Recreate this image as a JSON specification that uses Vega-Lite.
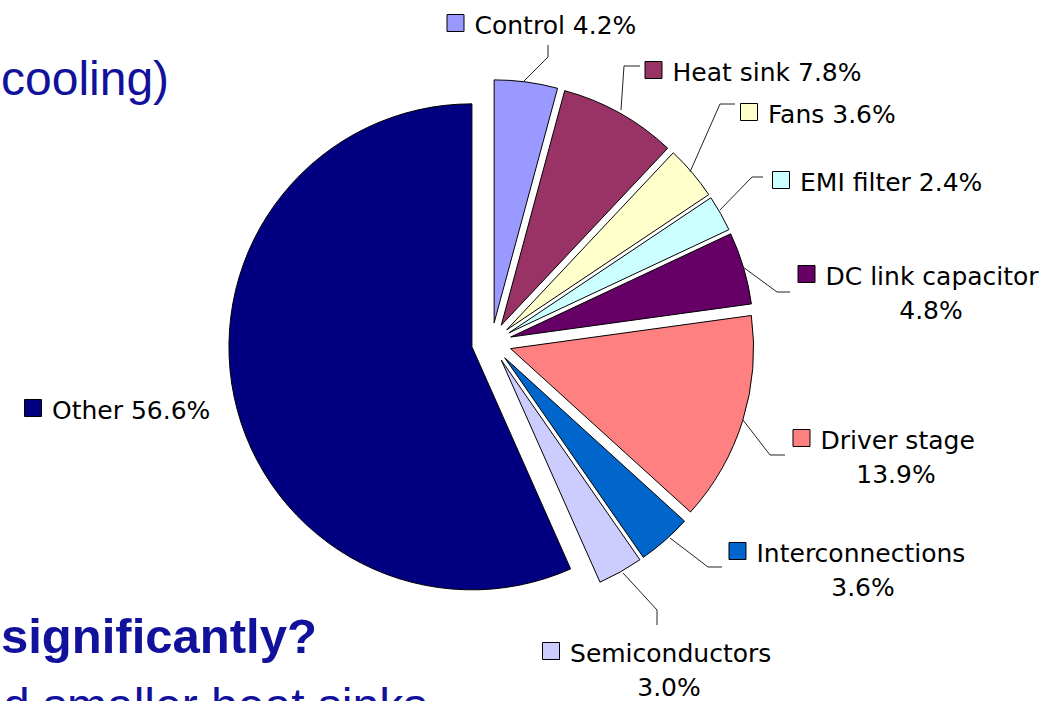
{
  "$schema": "https://vega.github.io/schema/vega-lite/v6.json",
  "width": 1054,
  "height": 701,
  "autosize": {"type": "none"},
  "padding": 0,
  "background": "white",
  "config": {"view": {"stroke": null}},
  "datasets": {
    "slices": [
      {"idx": 1, "cat": "Control", "pct": 4.2},
      {"idx": 2, "cat": "Heat sink", "pct": 7.8},
      {"idx": 3, "cat": "Fans", "pct": 3.6},
      {"idx": 4, "cat": "EMI filter", "pct": 2.4},
      {"idx": 5, "cat": "DC link capacitor", "pct": 4.8},
      {"idx": 6, "cat": "Driver stage", "pct": 13.9},
      {"idx": 7, "cat": "Interconnections", "pct": 3.6},
      {"idx": 8, "cat": "Semiconductors", "pct": 3.0},
      {"idx": 9, "cat": "Other", "pct": 56.6}
    ],
    "labels": [
      {"cat": "Control", "l1": "Control 4.2%", "x": -14.81, "y": 131.56},
      {"cat": "Heat sink", "l1": "Heat sink 7.8%", "x": 66.67, "y": 112.22},
      {"cat": "Fans", "l1": "Fans 3.6%", "x": 105.97, "y": 94.94},
      {"cat": "EMI filter", "l1": "EMI filter 2.4%", "x": 119.14, "y": 66.95},
      {"cat": "DC link capacitor", "l1": "DC link capacitor", "l2": "4.8%", "x": 129.63, "y": 28.27, "x2": 180.86},
      {"cat": "Driver stage", "l1": "Driver stage", "l2": "13.9%", "x": 127.57, "y": -39.22, "x2": 166.46},
      {"cat": "Interconnections", "l1": "Interconnections", "l2": "3.6%", "x": 101.23, "y": -85.72, "x2": 152.88},
      {"cat": "Semiconductors", "l1": "Semiconductors", "l2": "3.0%", "x": 24.49, "y": -126.87, "x2": 73.05},
      {"cat": "Other", "l1": "Other 56.6%", "x": -188.68, "y": -26.87}
    ],
    "leaders": [
      {"cat": "Control", "seq": 1, "x": 12.96, "y": 107.28},
      {"cat": "Control", "seq": 2, "x": 23.25, "y": 117.57},
      {"cat": "Control", "seq": 3, "x": 23.25, "y": 122.51},
      {"cat": "Heat sink", "seq": 1, "x": 53.29, "y": 95.76},
      {"cat": "Heat sink", "seq": 2, "x": 54.53, "y": 113.87},
      {"cat": "Heat sink", "seq": 3, "x": 61.11, "y": 113.87},
      {"cat": "Fans", "seq": 1, "x": 81.69, "y": 70.25},
      {"cat": "Fans", "seq": 2, "x": 94.03, "y": 98.23},
      {"cat": "Fans", "seq": 3, "x": 100.21, "y": 98.23},
      {"cat": "EMI filter", "seq": 1, "x": 94.03, "y": 54.61},
      {"cat": "EMI filter", "seq": 2, "x": 107.2, "y": 68.19},
      {"cat": "EMI filter", "seq": 3, "x": 111.73, "y": 68.19},
      {"cat": "DC link capacitor", "seq": 1, "x": 103.5, "y": 31.15},
      {"cat": "DC link capacitor", "seq": 2, "x": 117.49, "y": 20.86},
      {"cat": "DC link capacitor", "seq": 3, "x": 122.84, "y": 20.86},
      {"cat": "Driver stage", "seq": 1, "x": 103.5, "y": -31.81},
      {"cat": "Driver stage", "seq": 2, "x": 114.61, "y": -46.21},
      {"cat": "Driver stage", "seq": 3, "x": 120.78, "y": -46.21},
      {"cat": "Interconnections", "seq": 1, "x": 73.46, "y": -80.37},
      {"cat": "Interconnections", "seq": 2, "x": 89.09, "y": -92.3},
      {"cat": "Interconnections", "seq": 3, "x": 94.86, "y": -92.3},
      {"cat": "Semiconductors", "seq": 1, "x": 54.12, "y": -94.77},
      {"cat": "Semiconductors", "seq": 2, "x": 68.11, "y": -110.0},
      {"cat": "Semiconductors", "seq": 3, "x": 68.11, "y": -116.17}
    ]
  },
  "encoding": {
    "x": {"field": "x", "type": "quantitative", "scale": {"domain": [-202.26, 231.48], "nice": false, "zero": false}, "axis": null},
    "y": {"field": "y", "type": "quantitative", "scale": {"domain": [-147.45, 141.03], "nice": false, "zero": false}, "axis": null}
  },
  "layer": [
    {
      "data": {"values": [{"t": "cooling)", "x": -201.85, "y": 101.93}]},
      "mark": {"type": "text", "align": "left", "baseline": "alphabetic", "font": "Liberation Sans", "fontSize": 48, "color": "#11119c"},
      "encoding": {"text": {"field": "t"}}
    },
    {
      "data": {"values": [{"t": "significantly?", "x": -201.85, "y": -127.7}]},
      "mark": {"type": "text", "align": "left", "baseline": "alphabetic", "font": "Liberation Sans", "fontSize": 49, "fontWeight": "bold", "color": "#11119c"},
      "encoding": {"text": {"field": "t"}}
    },
    {
      "data": {"values": [{"t": "d smaller heat sinks", "x": -201.03, "y": -156.09}]},
      "mark": {"type": "text", "align": "left", "baseline": "alphabetic", "font": "Liberation Sans", "fontSize": 48, "color": "#11119c"},
      "encoding": {"text": {"field": "t"}}
    },
    {
      "data": {"name": "slices"},
      "transform": [
        {"stack": "pct", "groupby": [], "sort": [{"field": "idx", "order": "ascending"}], "as": ["p0", "p1"]},
        {"calculate": "8.23*sin(PI*(datum.p0+datum.p1)/99.9)", "as": "x"},
        {"calculate": "8.23*cos(PI*(datum.p0+datum.p1)/99.9)", "as": "y"}
      ],
      "mark": {
        "type": "arc",
        "outerRadius": 243,
        "stroke": "#000000",
        "strokeWidth": 1
      },
      "encoding": {
        "theta": {"field": "p0", "type": "quantitative", "scale": {"domain": [0, 99.9], "range": [0, 6.283185307179586]}},
        "theta2": {"field": "p1"},
        "color": {
          "field": "cat", "type": "nominal", "legend": null,
          "scale": {
            "domain": ["Control", "Heat sink", "Fans", "EMI filter", "DC link capacitor", "Driver stage", "Interconnections", "Semiconductors", "Other"],
            "range": ["#9999FF", "#993366", "#FFFFCC", "#CCFFFF", "#660066", "#FF8080", "#0066CC", "#CCCCFF", "#000080"]
          }
        }
      }
    },
    {
      "data": {"name": "leaders"},
      "mark": {"type": "line", "color": "#222222", "strokeWidth": 1},
      "encoding": {
        "detail": {"field": "cat", "type": "nominal"},
        "order": {"field": "seq", "type": "quantitative"}
      }
    },
    {
      "data": {"name": "labels"},
      "mark": {"type": "point", "shape": "square", "size": 289, "filled": true, "opacity": 1, "stroke": "#000000", "strokeWidth": 1},
      "encoding": {
        "color": {"field": "cat", "type": "nominal", "legend": null}
      }
    },
    {
      "data": {"name": "labels"},
      "mark": {"type": "text", "align": "left", "baseline": "alphabetic", "dx": 19, "dy": 11, "font": "DejaVu Sans", "fontSize": 25, "color": "#000000"},
      "encoding": {"text": {"field": "l1"}}
    },
    {
      "data": {"name": "labels"},
      "transform": [{"filter": "datum.l2 != null"}],
      "mark": {"type": "text", "align": "center", "baseline": "alphabetic", "dy": 45, "font": "DejaVu Sans", "fontSize": 25, "color": "#000000"},
      "encoding": {"x": {"field": "x2", "type": "quantitative"}, "text": {"field": "l2"}}
    }
  ]
}
